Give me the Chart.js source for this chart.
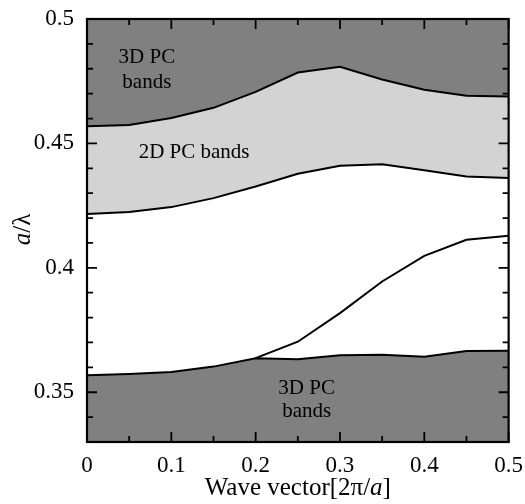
<!DOCTYPE html>
<html lang="en">
<head>
<meta charset="utf-8">
<style>
  html, body { margin: 0; padding: 0; background: #fff; }
  #wrap { width: 525px; height: 504px; }
</style>
</head>
<body>
<div id="wrap"><canvas id="myChart"></canvas></div>
<script src="https://cdn.jsdelivr.net/npm/chart.js"></script>
<script>
// wave vector samples [2pi/a]
const waveK = [0, 0.05, 0.1, 0.15, 0.2, 0.25, 0.3, 0.35, 0.4, 0.45, 0.5];
// lower edge of upper 3D PC bands
const upper3D = [0.4569, 0.4574, 0.4602, 0.4643, 0.4707, 0.4785, 0.4808, 0.4757, 0.4716, 0.4692, 0.4689];
// lower edge of 2D PC bands
const lower2D = [0.4216, 0.4224, 0.4244, 0.4280, 0.4327, 0.4378, 0.4410, 0.4416, 0.4392, 0.4367, 0.4361];
// upper edge of lower 3D PC bands
const lower3D = [0.3568, 0.3573, 0.3581, 0.3603, 0.3637, 0.3633, 0.3649, 0.3651, 0.3643, 0.3666, 0.3667];
// rising mode
const riseK = [0.2, 0.25, 0.3, 0.35, 0.4, 0.45, 0.5];
const riseBand = [0.3637, 0.3703, 0.3818, 0.3945, 0.4048, 0.4113, 0.4129];

const xTickLabels = [0, 0.1, 0.2, 0.3, 0.4, 0.5];
const yTickLabels = [0.35, 0.4, 0.45, 0.5];

const darkGray = 'rgb(128,128,128)';
const lightGray = 'rgb(211,211,211)';
const SERIF = '"Liberation Serif", "Times New Roman", serif';

const pts = (xs, ys) => xs.map((x, i) => ({ x: x, y: ys[i] }));
const near = (v, list) => list.some(l => Math.abs(l - v) < 1e-6);

const lineStyle = { borderColor: '#000', borderWidth: 2, pointRadius: 0, tension: 0 };

// frame, inward ticks, annotations and axis titles
const decor = {
  id: 'decor',
  afterDraw(chart) {
    const ctx = chart.ctx;
    const a = chart.chartArea;
    const xs = chart.scales.x, ys = chart.scales.y;
    ctx.save();
    ctx.strokeStyle = '#000';
    ctx.lineWidth = 2.2;
    ctx.strokeRect(a.left, a.top, a.right - a.left, a.bottom - a.top);
    ctx.lineWidth = 1.8;
    ctx.beginPath();
    for (let v = 0; v <= 0.5001; v += 0.05) {
      const p = xs.getPixelForValue(v);
      const len = near(v, xTickLabels) ? 10 : 6;
      ctx.moveTo(p, a.bottom); ctx.lineTo(p, a.bottom - len);
      ctx.moveTo(p, a.top); ctx.lineTo(p, a.top + len);
    }
    for (let v = 0.33; v <= 0.5001; v += 0.01) {
      const p = ys.getPixelForValue(v);
      const len = near(v, yTickLabels) ? 10 : 6;
      ctx.moveTo(a.left, p); ctx.lineTo(a.left + len, p);
      ctx.moveTo(a.right, p); ctx.lineTo(a.right - len, p);
    }
    ctx.stroke();

    // band labels
    ctx.fillStyle = '#000';
    ctx.font = '21px ' + SERIF;
    ctx.textAlign = 'center';
    ctx.textBaseline = 'middle';
    ctx.fillText('3D PC', xs.getPixelForValue(0.071), ys.getPixelForValue(0.4847));
    ctx.fillText('bands', xs.getPixelForValue(0.071), ys.getPixelForValue(0.4746));
    ctx.fillText('2D PC bands', xs.getPixelForValue(0.127), ys.getPixelForValue(0.4462));
    ctx.fillText('3D PC', xs.getPixelForValue(0.2605), ys.getPixelForValue(0.3517));
    ctx.fillText('bands', xs.getPixelForValue(0.2605), ys.getPixelForValue(0.3424));

    // x title with italic a
    ctx.textBaseline = 'alphabetic';
    ctx.textAlign = 'left';
    const fr = '25px ' + SERIF, fi = 'italic 25px ' + SERIF;
    const parts = [['Wave vector[2\u03c0/', fr], ['a', fi], [']', fr]];
    let w = 0;
    parts.forEach(p => { ctx.font = p[1]; w += ctx.measureText(p[0]).width; });
    let x = (a.left + a.right) / 2 - w / 2;
    parts.forEach(p => { ctx.font = p[1]; ctx.fillText(p[0], x, 495); x += ctx.measureText(p[0]).width; });

    // y title a/λ rotated
    ctx.translate(30, (a.top + a.bottom) / 2 - 1);
    ctx.rotate(-Math.PI / 2);
    const yparts = [['a', fi], ['/\u03bb', fr]];
    w = 0;
    yparts.forEach(p => { ctx.font = p[1]; w += ctx.measureText(p[0]).width; });
    x = -w / 2;
    yparts.forEach(p => { ctx.font = p[1]; ctx.fillText(p[0], x, 0); x += ctx.measureText(p[0]).width; });
    ctx.restore();
  }
};

new Chart(document.getElementById('myChart'), {
  type: 'line',
  data: {
    datasets: [
      Object.assign({ data: pts(waveK, upper3D), fill: 'end', backgroundColor: darkGray }, lineStyle),
      Object.assign({ data: pts(waveK, lower2D), fill: '-1', backgroundColor: lightGray }, lineStyle),
      Object.assign({ data: pts(waveK, lower3D), fill: 'start', backgroundColor: darkGray }, lineStyle),
      Object.assign({ data: pts(riseK, riseBand), fill: false }, lineStyle)
    ]
  },
  options: {
    responsive: true,
    maintainAspectRatio: false,
    animation: false,
    events: [],
    layout: { padding: { top: 19, right: 16, left: 0, bottom: 0 } },
    plugins: { legend: { display: false }, tooltip: { enabled: false } },
    scales: {
      x: {
        type: 'linear', min: 0, max: 0.5,
        grid: { display: false }, border: { display: false },
        afterFit: s => { s.height = 62; },
        afterBuildTicks: s => { s.ticks = xTickLabels.map(v => ({ value: v })); },
        ticks: {
          color: '#000', padding: 2, maxRotation: 0, autoSkip: false,
          font: { family: SERIF, size: 23 },
          callback: v => String(Math.round(v * 10) / 10)
        }
      },
      y: {
        type: 'linear', min: 0.33, max: 0.5,
        grid: { display: false }, border: { display: false },
        afterFit: s => { s.width = 87; },
        afterBuildTicks: s => { s.ticks = yTickLabels.map(v => ({ value: v })); },
        ticks: {
          color: '#000', padding: 5, autoSkip: false,
          font: { family: SERIF, size: 23 },
          callback: v => String(Math.round(v * 100) / 100)
        }
      }
    }
  },
  plugins: [decor]
});
</script>
</body>
</html>
